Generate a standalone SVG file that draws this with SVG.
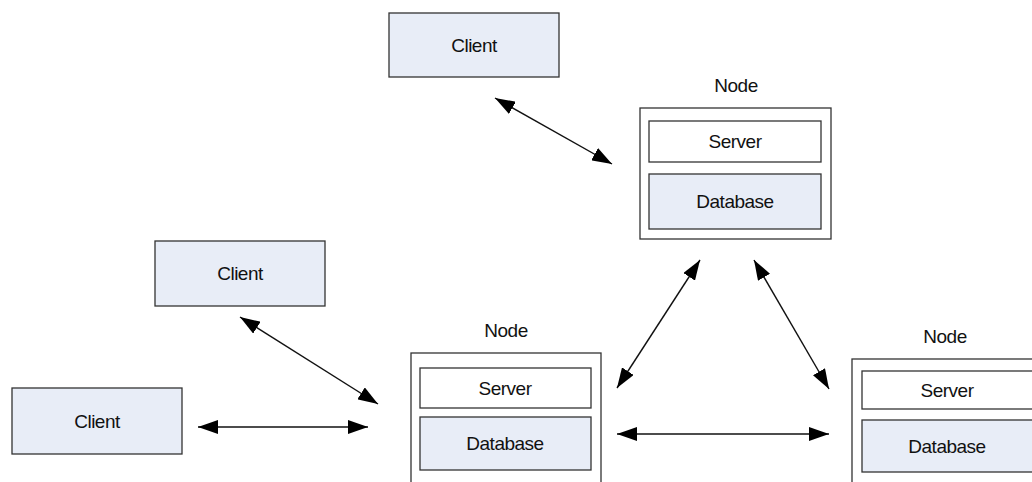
<svg xmlns="http://www.w3.org/2000/svg" width="1032" height="482" viewBox="0 0 1032 482">
  <style>
    .box { fill: #e8edf7; stroke: #333333; stroke-width: 1.3; }
    .frame { fill: #ffffff; stroke: #333333; stroke-width: 1.3; }
    .srv { fill: #ffffff; stroke: #333333; stroke-width: 1.3; }
    .lbl { font-family: "Liberation Sans", Arial, sans-serif; font-size: 19px; fill: #111111; text-anchor: middle; letter-spacing: -0.5px; }
    .link { stroke: #111111; stroke-width: 1.4; fill: none; marker-start: url(#head); marker-end: url(#head); }
  </style>
  <defs>
    <marker id="head" viewBox="0 0 20 14" refX="20" refY="7" markerWidth="20" markerHeight="14" markerUnits="userSpaceOnUse" orient="auto-start-reverse">
      <path d="M0,0 L20,7 L0,14 Z" fill="#000000"/>
    </marker>
  </defs>

  <rect width="1032" height="482" fill="#ffffff"/>

  <!-- clients -->
  <g id="client-top">
    <rect class="box" x="389" y="13" width="170" height="64"/>
    <text class="lbl" x="474" y="52">Client</text>
  </g>
  <g id="client-mid">
    <rect class="box" x="155" y="241" width="170" height="65"/>
    <text class="lbl" x="240" y="280">Client</text>
  </g>
  <g id="client-low">
    <rect class="box" x="12" y="388" width="170" height="66"/>
    <text class="lbl" x="97" y="428">Client</text>
  </g>

  <!-- server/database nodes -->
  <g id="node-top">
    <text class="lbl" x="736" y="92">Node</text>
    <rect class="frame" x="640" y="108" width="191" height="131"/>
    <rect class="srv" x="649" y="121" width="172" height="41"/>
    <text class="lbl" x="735" y="148">Server</text>
    <rect class="box" x="649" y="174" width="172" height="55"/>
    <text class="lbl" x="735" y="208">Database</text>
  </g>
  <g id="node-mid">
    <text class="lbl" x="506" y="337">Node</text>
    <rect class="frame" x="411" y="353" width="190" height="140"/>
    <rect class="srv" x="420" y="368" width="171" height="40"/>
    <text class="lbl" x="505" y="395">Server</text>
    <rect class="box" x="420" y="417" width="171" height="53"/>
    <text class="lbl" x="505" y="450">Database</text>
  </g>
  <g id="node-right">
    <text class="lbl" x="945" y="343">Node</text>
    <rect class="frame" x="852" y="359" width="191" height="134"/>
    <rect class="srv" x="862" y="371" width="171" height="38"/>
    <text class="lbl" x="947" y="397">Server</text>
    <rect class="box" x="862" y="420" width="171" height="52"/>
    <text class="lbl" x="947" y="453">Database</text>
  </g>

  <!-- connectors -->
  <g id="connectors">
    <line class="link" x1="495" y1="98" x2="612" y2="164"/>
    <line class="link" x1="700" y1="260" x2="617" y2="388"/>
    <line class="link" x1="754" y1="260" x2="829" y2="389"/>
    <line class="link" x1="240" y1="317" x2="378" y2="404"/>
    <line class="link" x1="198" y1="427" x2="368" y2="427"/>
    <line class="link" x1="617" y1="434" x2="829" y2="434"/>
  </g>
</svg>
